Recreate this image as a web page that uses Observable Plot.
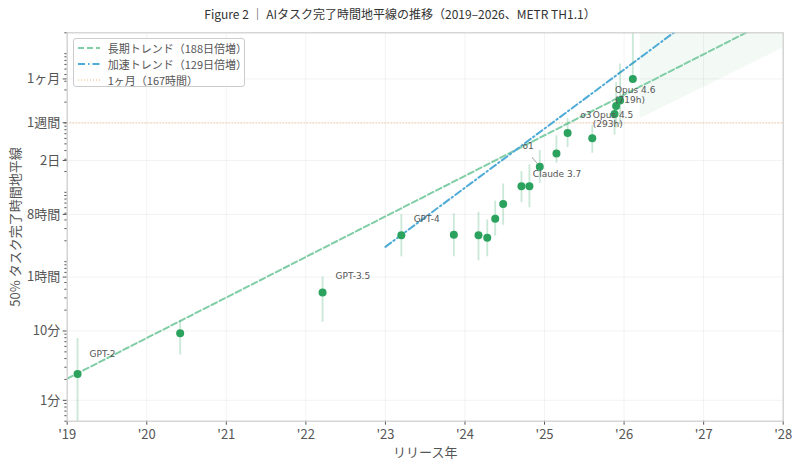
<!DOCTYPE html>
<html><head><meta charset="utf-8">
<script src="https://cdn.jsdelivr.net/npm/d3@7"></script>
<script src="https://cdn.jsdelivr.net/npm/@observablehq/plot@0.6"></script>
<style>
body{margin:0;background:#fff;}
#wrap{position:relative;width:800px;height:467px;font-family:"Noto Sans CJK JP",sans-serif;overflow:hidden;}
#title{height:26px;line-height:28px;text-align:center;font-size:12px;color:#333;}
#legend{position:absolute;left:72.7px;top:38.3px;width:172px;height:49px;border:1px solid #ccc;border-radius:3px;background:rgba(255,255,255,0.85);font-size:11px;color:#555;box-sizing:border-box;}
.row{position:absolute;left:4px;height:14px;display:flex;align-items:center;white-space:nowrap;}
.row svg{margin-right:8px;}
</style></head>
<body><div id="wrap"><div id="title">Figure 2 ｜ AIタスク完了時間地平線の推移（2019–2026、METR TH1.1）</div><div id="chart"></div><div id="legend"></div></div>
<script>
// ---- data ----
const modelYears   = [2019.13, 2020.42, 2022.21, 2023.20, 2023.86, 2024.17, 2024.28, 2024.38, 2024.48, 2024.71, 2024.81, 2024.94, 2025.15, 2025.29, 2025.60, 2025.88, 2025.90, 2025.95, 2026.11];
const modelMinutes = [2.4, 9.3, 36, 240, 245, 240, 221, 417, 680, 1220, 1225, 2330, 3620, 7150, 6050, 13450, 17580, 21100, 43140];
const ciLow        = [0.3, 4.5, 13.4, 118, 118, 103, 118, 235, 335, 710, 600, 1350, 2630, 4430, 3670, 6700, 8500, 9400, 38000];
const ciHigh       = [7.8, 14.3, 60, 476, 492, 516, 399, 743, 1320, 1990, 2490, 4010, 6530, 11500, 9120, 19500, 38000, 71000, 400000];

const labelNames = ["GPT-2", "GPT-3.5", "GPT-4", "o1", "Claude 3.7", "o3", "Opus 4.5\n(293h)", "Opus 4.6\n(719h)"];
const labelIndex = [0, 2, 3, 11, 12, 13, 16, 18];

const longTrendYears = [2019, 2028];
const longTrendMinutes = [2.06, 377000];
const accelTrendYears = [2023, 2028];
const accelTrendMinutes = [163.7, 2990000];
const bandYears = [2026.2, 2028];
const bandLow = [11400, 120800];
const bandHigh = [3000000, 30000000];
const monthLineMinutes = 167 * 60;

const xTicks = [2019, 2020, 2021, 2022, 2023, 2024, 2025, 2026, 2027, 2028];
const xTickLabels = ["'19", "'20", "'21", "'22", "'23", "'24", "'25", "'26", "'27", "'28"];
const yTicks = [1, 10, 60, 480, 2880, 10080, 43200];
const yTickLabels = ["1分", "10分", "1時間", "8時間", "2日", "1週間", "1ヶ月"];
const legendLabels = ["長期トレンド（188日倍増）", "加速トレンド（129日倍増）", "1ヶ月（167時間）"];
const xTitle = "リリース年";
const yTitle = "50% タスク完了時間地平線";

// ---- layout / style ----
const GREEN = "#2ca25f", LONG = "#80cda6", ACCEL = "#4eaad6", ORANGE = "#f5b37a", TEXT = "#555";
const labelOffsets = [[12, -20], [13, -16.7], [12.3, -16.6], [-17.3, -20.6], [-23.6, 20.5], [12.7, -17.8], [-23.3, 13.3], [-17.8, 16]];

const yMinor = [];
for (let e = -1; e <= 5; e++) for (let k = 1; k <= 9; k++) {
  const v = k * Math.pow(10, e);
  if (v >= 0.5 && v <= 200000 && !yTicks.includes(v)) yMinor.push(v);
}

const models = modelYears.map((year, i) => ({year, minutes: modelMinutes[i], lo: ciLow[i], hi: ciHigh[i]}));
const longTrend = longTrendYears.map((year, i) => ({year, minutes: longTrendMinutes[i]}));
const accelTrend = accelTrendYears.map((year, i) => ({year, minutes: accelTrendMinutes[i]}));
const band = bandYears.map((year, i) => ({year, low: bandLow[i], high: bandHigh[i]}));
const yTickData = yTicks.map((v, i) => ({v, label: yTickLabels[i]}));

const labelMarks = labelNames.map((name, j) => Plot.text([models[labelIndex[j]]], {
  x: "year", y: "minutes", text: () => name, dx: labelOffsets[j][0], dy: labelOffsets[j][1],
  textAnchor: "start", fontFamily: "DejaVu Sans", fontSize: 9, fill: TEXT, lineHeight: 1.05
}));

const chart = Plot.plot({
  width: 800, height: 441,
  marginTop: 6.3, marginBottom: 46.3, marginLeft: 66.7, marginRight: 17.3,
  style: {fontFamily: "'Noto Sans CJK JP', sans-serif", fontSize: "13px", color: TEXT, background: "white"},
  x: {domain: [2019, 2028]},
  y: {type: "log", domain: [0.5, 200000]},
  marks: [
    Plot.gridX({ticks: xTicks, stroke: "#000", strokeOpacity: 0.05}),
    Plot.gridY({ticks: yTicks, stroke: "#000", strokeOpacity: 0.05}),
    Plot.areaY(band, {x: "year", y1: "low", y2: "high", fill: GREEN, fillOpacity: 0.06, clip: true}),
    Plot.ruleY([monthLineMinutes], {stroke: ORANGE, strokeDasharray: "1,2", strokeWidth: 1}),
    Plot.line(longTrend, {x: "year", y: "minutes", stroke: LONG, strokeWidth: 2, strokeDasharray: "6,3", clip: true}),
    Plot.line(accelTrend, {x: "year", y: "minutes", stroke: ACCEL, strokeWidth: 2, strokeDasharray: "7,3,1.5,3", clip: true}),
    Plot.ruleX(models, {x: "year", y1: "lo", y2: "hi", stroke: GREEN, strokeOpacity: 0.25, strokeWidth: 1.8, clip: true}),
    Plot.dot(models, {x: "year", y: "minutes", r: 4, fill: GREEN}),
    ...labelMarks,
    Plot.vector([models[11]], {x: "year", y: "minutes", length: 7.6, rotate: -41, anchor: "start", dx: -2.3, dy: -3.3, r: 0, stroke: "#999", strokeWidth: 0.8}),
    Plot.axisX({ticks: xTicks, tickFormat: d => xTickLabels[xTicks.indexOf(d)], tickSize: 4, label: null}),
    Plot.axisY({ticks: yTicks, tickFormat: () => "", tickSize: 4, label: null}),
    Plot.axisY({ticks: yMinor, tickFormat: () => "", tickSize: 2.3, label: null}),
    Plot.text(yTickData, {y: "v", text: "label", frameAnchor: "left", textAnchor: "end", dx: -7, fontSize: 13, fill: TEXT}),
    Plot.text([xTitle], {text: d => d, frameAnchor: "bottom", lineAnchor: "middle", textAnchor: "middle", dy: 31.3, fontSize: 13, fill: TEXT}),
    Plot.text([yTitle], {text: d => d, frameAnchor: "left", rotate: -90, textAnchor: "middle", lineAnchor: "middle", dx: -51.7, fontSize: 13, fill: TEXT}),
    Plot.frame({stroke: "#ccc", strokeWidth: 1.2})
  ]
});
document.getElementById("chart").appendChild(chart);

// legend
const legendStyles = [
  {stroke: LONG, dash: "6,3", w: 2},
  {stroke: ACCEL, dash: "7,3,1.5,3", w: 2},
  {stroke: ORANGE, dash: "1,2", w: 1}
];
const legend = document.getElementById("legend");
legendLabels.forEach((lab, i) => {
  const row = document.createElement("div");
  row.className = "row";
  row.style.top = (2 + i * 15.8) + "px";
  const s = legendStyles[i];
  row.innerHTML = `<svg width="22" height="6"><line x1="0" y1="3" x2="22" y2="3" stroke="${s.stroke}" stroke-width="${s.w}" stroke-dasharray="${s.dash}"/></svg><span>${lab}</span>`;
  legend.appendChild(row);
});
</script>
</body></html>
